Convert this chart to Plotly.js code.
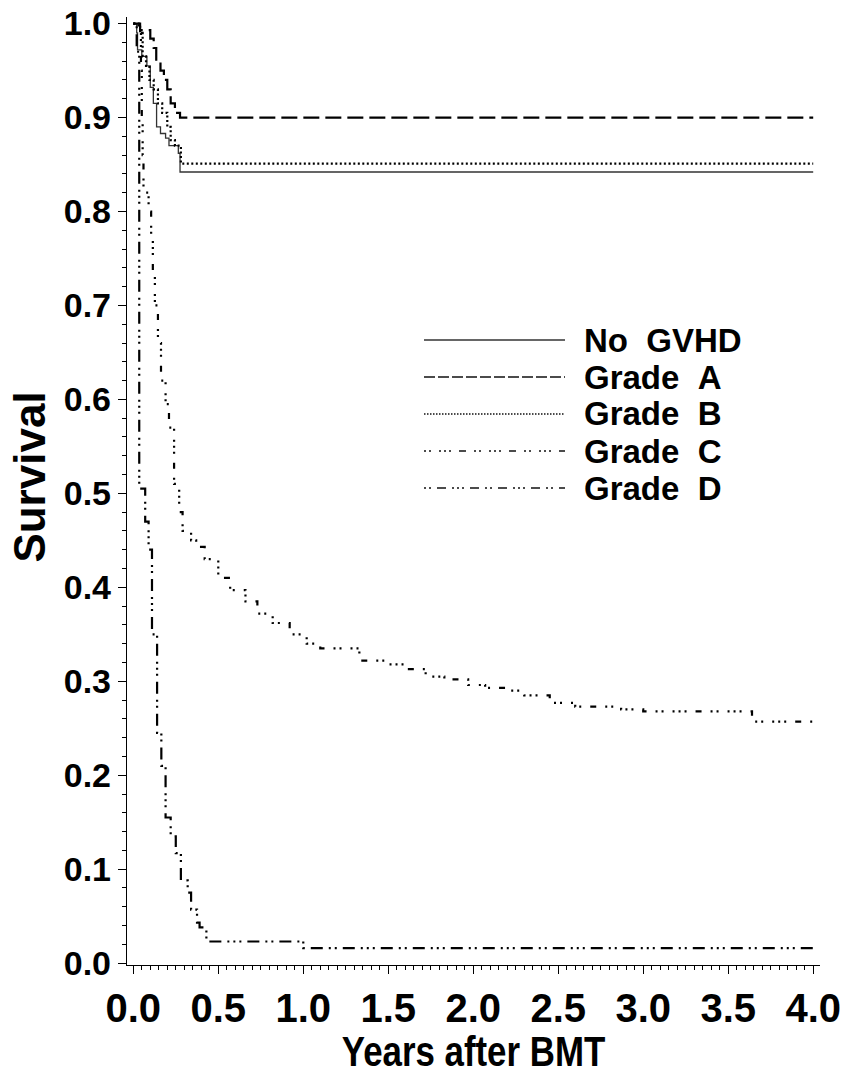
<!DOCTYPE html>
<html>
<head>
<meta charset="utf-8">
<script src="https://cdn.plot.ly/plotly-3.0.1.min.js"></script>
<style>html,body{margin:0;padding:0;background:#fff}#chart{width:855px;height:1075px}</style>
</head>
<body>
<div id="chart"></div>
<script>
// Kaplan-Meier survival estimates (years after BMT, survival)
const noGvhdT = [0, 0.02, 0.025, 0.05, 0.08, 0.10, 0.118, 0.137, 0.16, 0.19, 0.21, 0.265, 0.275, 4.0];
const noGvhdS = [1.0, 0.99, 0.972, 0.965, 0.955, 0.932, 0.915, 0.89, 0.883, 0.878, 0.87, 0.862, 0.842, 0.842];

const gradeAT = [0, 0.04, 0.10, 0.12, 0.135, 0.16, 0.18, 0.20, 0.22, 0.245, 0.275, 4.0];
const gradeAS = [1.0, 0.993, 0.984, 0.974, 0.96, 0.95, 0.94, 0.93, 0.915, 0.905, 0.90, 0.90];

const gradeBT = [0, 0.04, 0.055, 0.075, 0.095, 0.12, 0.145, 0.17, 0.20, 0.22, 0.245, 0.28, 4.0];
const gradeBS = [1.0, 0.99, 0.965, 0.955, 0.94, 0.93, 0.915, 0.905, 0.89, 0.876, 0.87, 0.851, 0.851];

const gradeCT = [0, 0.03, 0.045, 0.05, 0.055, 0.06, 0.09, 0.105, 0.115, 0.127, 0.145, 0.163, 0.19, 0.21, 0.24, 0.27, 0.29, 0.34, 0.37, 0.42, 0.50, 0.57, 0.66, 0.73, 0.82, 0.92, 1.02, 1.10, 1.33, 1.50, 1.60, 1.72, 1.83, 1.97, 2.07, 2.20, 2.30, 2.45, 2.60, 2.87, 3.00, 3.64, 4.0];
const gradeCS = [1.0, 0.99, 0.95, 0.90, 0.86, 0.82, 0.80, 0.77, 0.735, 0.70, 0.66, 0.62, 0.595, 0.57, 0.51, 0.48, 0.46, 0.45, 0.443, 0.43, 0.41, 0.397, 0.385, 0.372, 0.362, 0.35, 0.34, 0.335, 0.322, 0.318, 0.313, 0.305, 0.302, 0.296, 0.293, 0.29, 0.285, 0.277, 0.273, 0.27, 0.268, 0.257, 0.257];

const gradeDT = [0, 0.02, 0.035, 0.07, 0.09, 0.11, 0.14, 0.165, 0.19, 0.22, 0.25, 0.28, 0.32, 0.34, 0.375, 0.39, 0.43, 1.0, 4.0];
const gradeDS = [1.0, 0.97, 0.505, 0.47, 0.44, 0.35, 0.245, 0.21, 0.155, 0.135, 0.117, 0.088, 0.075, 0.057, 0.043, 0.038, 0.023, 0.016, 0.016];

const seriesNames = ['No GVHD', 'Grade A', 'Grade B', 'Grade C', 'Grade D'];
const xTickVals = [0, 0.5, 1, 1.5, 2, 2.5, 3, 3.5, 4];
const xTickText = ['0.0', '0.5', '1.0', '1.5', '2.0', '2.5', '3.0', '3.5', '4.0'];
const yTickVals = [0, 0.1, 0.2, 0.3, 0.4, 0.5, 0.6, 0.7, 0.8, 0.9, 1.0];
const yTickText = ['0.0', '0.1', '0.2', '0.3', '0.4', '0.5', '0.6', '0.7', '0.8', '0.9', '1.0'];

const styles = [
  {color: '#333', width: 1.3, dash: 'solid'},
  {color: '#000', width: 2.2, dash: '16px,6px'},
  {color: '#000', width: 2.2, dash: '2px,2.5px'},
  {color: '#000', width: 2.2, dash: '2px,4px,2px,9px,2px,4px,2px,4px,2px,9px,6px,9px'},
  {color: '#000', width: 2.2, dash: '2px,4px,2px,6px,12px,6px,2px,4px,2px,4px,2px,6px,12px,6px'}
];
const legendDash = ['solid', '11px,3px', '1.5px,1.5px', '2px,3px,2px,8px,2px,3px,2px,3px,2px,8px,7px,8px', '2px,3px,2px,6px,9px,6px,2px,3px,2px,3px,2px,6px,9px,6px'];
const xs = [noGvhdT, gradeAT, gradeBT, gradeCT, gradeDT];
const ys = [noGvhdS, gradeAS, gradeBS, gradeCS, gradeDS];

const traces = xs.map((x, i) => ({
  x: x, y: ys[i], name: seriesNames[i], type: 'scatter', mode: 'lines',
  line: {shape: 'hv', color: styles[i].color, width: styles[i].width, dash: styles[i].dash},
  showlegend: false, hoverinfo: 'skip'
}));

// Legend drawn as paper-space samples + text
const legX0 = 424, legX1 = 565, legTextX = 582;
const legRows = [340, 377, 414, 451, 488];
const W = 855, H = 1075;
const ml = 127, mr = 35, mt = 17, mb = 110;
const pw = W - ml - mr, ph = H - mt - mb;
const px2x = p => (p - ml) / pw;
const py2y = p => 1 - (p - mt) / ph;
const shapes = [];
const annotations = [];
seriesNames.forEach((n, i) => {
  shapes.push({type: 'line', xref: 'paper', yref: 'paper',
    x0: px2x(legX0), x1: px2x(legX1), y0: py2y(legRows[i]), y1: py2y(legRows[i]),
    line: {color: i === 0 ? '#333' : '#111', width: 1.4, dash: legendDash[i]}});
  annotations.push({xref: 'paper', yref: 'paper', x: px2x(legTextX), y: py2y(legRows[i]),
    xanchor: 'left', yanchor: 'middle', showarrow: false, text: n.replace(' ', '\u00a0\u00a0'),
    font: {family: 'Liberation Sans, Arial, sans-serif', size: 33, color: '#000', weight: 'bold'}});
});

const layout = {
  width: W, height: H,
  margin: {l: ml, r: mr, t: mt, b: mb, pad: 0},
  paper_bgcolor: '#fff', plot_bgcolor: '#fff',
  showlegend: false,
  xaxis: {
    range: [-0.037, 4.04], tickvals: xTickVals, ticktext: xTickText,
    ticks: 'outside', ticklen: 8, tickwidth: 1.2, tickcolor: '#000',
    showline: true, linecolor: '#000', linewidth: 1.2, showgrid: false, zeroline: false,
    minor: {dtick: 0.05, ticks: 'outside', ticklen: 4, tickcolor: '#000', tickwidth: 1},
    tickfont: {family: 'Liberation Sans, Arial, sans-serif', size: 40, color: '#000', weight: 'bold'},
    title: {text: 'Years after BMT', standoff: 2,
      font: {family: 'Liberation Sans, Arial, sans-serif', size: 42, color: '#000', weight: 'bold'}}
  },
  yaxis: {
    range: [-0.002, 1.007], tickvals: yTickVals, ticktext: yTickText,
    ticks: 'outside', ticklen: 8, tickwidth: 1.2, tickcolor: '#000',
    showline: true, linecolor: '#000', linewidth: 1.2, showgrid: false, zeroline: false,
    minor: {dtick: 0.02, ticks: 'outside', ticklen: 4, tickcolor: '#000', tickwidth: 1},
    tickfont: {family: 'Liberation Sans, Arial, sans-serif', size: 34, color: '#000', weight: 'bold'},
    title: {text: 'Survival', standoff: 14,
      font: {family: 'Liberation Sans, Arial, sans-serif', size: 44, color: '#000', weight: 'bold'}}
  },
  shapes: shapes,
  annotations: annotations
};

Plotly.newPlot('chart', traces, layout, {staticPlot: true, displayModeBar: false}).then(() => {
  // the reference x-axis title is set in a narrow face: compress horizontally
  const t = document.querySelector('#chart .xtitle');
  if (t) {
    const bb = t.getBBox();
    const cx = bb.x + bb.width / 2;
    const prev = t.getAttribute('transform') || '';
    t.setAttribute('transform', prev + ' translate(' + cx + ',0) scale(0.83,1) translate(' + (-cx) + ',0)');
  }
  const yt = document.querySelector('#chart .ytitle');
  if (yt) {
    const prev = yt.getAttribute('transform') || '';
    yt.setAttribute('transform', 'translate(5,-14) ' + prev);
  }
});
</script>
</body>
</html>
